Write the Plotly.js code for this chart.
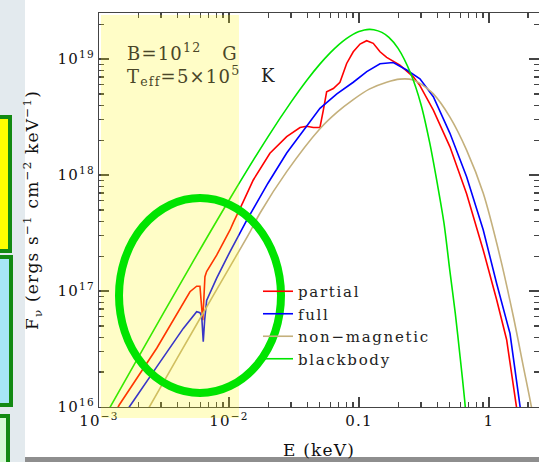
<!DOCTYPE html>
<html><head><meta charset="utf-8">
<script src="https://cdn.plot.ly/plotly-3.0.1.min.js"></script>
<style>
html,body{margin:0;padding:0;background:#ffffff;overflow:hidden}
#chart{width:539px;height:462px}
svg text{letter-spacing:1.2px}
svg text.legendtext{letter-spacing:1.7px}
</style></head><body><div id="chart"></div>
<script>
// ---- data (E in keV, F_nu in ergs s^-1 cm^-2 keV^-1) ----
const seriesNames = ['partial', 'full', 'non\u2212magnetic', 'blackbody'];

const energyPartial = [0.0013, 0.00143, 0.00278, 0.00445, 0.00501, 0.00564, 0.00598, 0.00610, 0.00628, 0.00640, 0.00653, 0.00673, 0.00759, 0.00804, 0.01019, 0.01079, 0.01288, 0.01538, 0.02065, 0.0278, 0.0352, 0.0395, 0.0446, 0.0501, 0.0532, 0.0564, 0.0635, 0.0714, 0.0804, 0.0904, 0.1019, 0.1146, 0.1288, 0.1452, 0.1633, 0.2065, 0.2618, 0.2944, 0.3733, 0.501, 0.673, 0.904, 1.146, 1.368, 1.633, 1.7];
const fluxPartial = [8.5e15, 1.04e16, 3.21e16, 7.83e16, 9.86e16, 1.10e17, 1.10e17, 8.3e16, 5.6e16, 8.3e16, 1.33e17, 1.47e17, 1.85e17, 2.04e17, 3.36e17, 3.89e17, 5.89e17, 9.06e17, 1.54e18, 2.14e18, 2.57e18, 2.63e18, 2.57e18, 2.57e18, 3.63e18, 5.22e18, 5.57e18, 6.31e18, 9.16e18, 1.156e19, 1.346e19, 1.439e19, 1.365e19, 1.156e19, 1.033e19, 8.87e18, 7.03e18, 5.9e18, 3.63e18, 1.75e18, 6.9e17, 2.25e17, 8.4e16, 3.8e16, 9.8e15, 7.0e15];

const energyFull = [0.0016, 0.00171, 0.00278, 0.00445, 0.00564, 0.00598, 0.00617, 0.00634, 0.0065, 0.00662, 0.00673, 0.00804, 0.01019, 0.01368, 0.01995, 0.0278, 0.0395, 0.0501, 0.0676, 0.0904, 0.1148, 0.1452, 0.1837, 0.2328, 0.2944, 0.3733, 0.501, 0.673, 0.904, 1.146, 1.452, 1.75, 1.8];
const fluxFull = [8.7e15, 1.0e16, 2.22e16, 4.76e16, 6.64e16, 6.5e16, 6.03e16, 3.66e16, 5.62e16, 7.33e16, 8.3e16, 1.29e17, 2.19e17, 4.07e17, 8.5e17, 1.55e18, 2.61e18, 3.76e18, 5.0e18, 6.31e18, 7.8e18, 9.12e18, 9.33e18, 8.04e18, 6.76e18, 4.73e18, 2.29e18, 9.66e17, 3.36e17, 1.16e17, 4.3e16, 9.8e15, 7.5e15];

const energyNonMag = [0.0022, 0.00244, 0.0063, 0.01, 0.01452, 0.0173, 0.0278, 0.0501, 0.0676, 0.0904, 0.12, 0.1633, 0.2065, 0.2618, 0.2944, 0.3733, 0.501, 0.673, 0.904, 1.216, 1.542, 1.841, 2.128, 2.2];
const fluxNonMag = [8.1e15, 1.0e16, 6.4e16, 1.57e17, 3.24e17, 4.68e17, 1.07e18, 2.51e18, 3.47e18, 4.47e18, 5.5e18, 6.31e18, 6.71e18, 6.61e18, 6.17e18, 5.01e18, 3.16e18, 1.64e18, 6.95e17, 1.98e17, 6.0e16, 2.22e16, 9.8e15, 7.5e15];

const energyBB = [0.001, 0.002, 0.005, 0.01, 0.02, 0.03, 0.04, 0.05, 0.06, 0.07, 0.08, 0.09, 0.1, 0.11, 0.12, 0.13, 0.15, 0.17, 0.2, 0.25, 0.3, 0.35, 0.4, 0.45, 0.5, 0.55, 0.6, 0.65, 0.7];
const fluxBB = [6.75e15, 2.67e16, 1.61e17, 6.06e17, 2.146e18, 4.25e18, 6.63e18, 9.04e18, 1.131e19, 1.333e19, 1.502e19, 1.633e19, 1.726e19, 1.782e19, 1.803e19, 1.792e19, 1.699e19, 1.537e19, 1.236e19, 7.51e18, 4.06e18, 1.9e18, 8.5e17, 3.9e17, 1.5e17, 6.5e16, 2.7e16, 1.15e16, 4.5e15];

const xTickVals = [0.001, 0.01, 0.1, 1];
const xTickText = ['10<sup>\u22123</sup>', '10<sup>\u22122</sup>', '0.1', '1'];
const yTickVals = [1e16, 1e17, 1e18, 1e19];
const yTickText = ['10<sup>16</sup>', '10<sup>17</sup>', '10<sup>18</sup>', '10<sup>19</sup>'];

// ---- styling ----
const FONT = 'DejaVu Serif';
const colors = ['#ff0000', '#0000ff', '#c4b07c', '#00e600'];
const X = px => (px - 99) / 440;   // page pixel -> paper x (decorations only)
const Y = py => (407 - py) / 394;  // page pixel -> paper y

const mk = (x, y, i, shape) => ({
  x: x, y: y, type: 'scatter', mode: 'lines', name: seriesNames[i],
  line: {color: colors[i], width: 1.6, shape: shape || 'linear', smoothing: 0.8}
});
const traces = [
  mk(energyPartial, fluxPartial, 0),
  mk(energyFull, fluxFull, 1),
  mk(energyNonMag, fluxNonMag, 2, 'spline'),
  mk(energyBB, fluxBB, 3, 'spline')
];

const axisCommon = {
  type: 'log', showgrid: false, zeroline: false,
  showline: true, linecolor: '#444', linewidth: 1.2,
  mirror: 'allticks', ticks: 'inside', ticklen: 10, tickwidth: 1.3, tickcolor: '#444',
  minor: {ticks: 'inside', ticklen: 5, tickwidth: 1.2, tickcolor: '#444', dtick: 'D1', showgrid: false},
  tickmode: 'array',
  tickfont: {family: FONT, size: 15, color: '#111'}
};

const layout = {
  width: 539, height: 462,
  margin: {l: 99, r: 0, t: 13, b: 55},
  paper_bgcolor: '#ffffff', plot_bgcolor: '#ffffff',
  font: {family: FONT, color: '#111'},
  showlegend: true,
  legend: {x: X(258), y: Y(275), xanchor: 'left', yanchor: 'top',
           bgcolor: 'rgba(0,0,0,0)', borderwidth: 0, itemwidth: 30,
           tracegroupgap: 0, font: {family: FONT, size: 15, color: '#222'}},
  xaxis: Object.assign({}, axisCommon, {
    range: [-3, 0.385], tickvals: xTickVals, ticktext: xTickText,
    title: {text: 'E (keV)', font: {family: FONT, size: 17, color: '#111'}, standoff: 14}
  }),
  yaxis: Object.assign({}, axisCommon, {
    range: [16, 19.397], tickvals: yTickVals, ticktext: yTickText,
    title: {text: 'F<sub>\u03bd</sub> (ergs s<sup>\u22121</sup> cm<sup>\u22122</sup> keV<sup>\u22121</sup>)',
            font: {family: FONT, size: 17, color: '#111'}, standoff: 14}
  }),
  shapes: [
    // slide background strip (left) and bottom shadow, kept outside the plot area
    {type: 'rect', xref: 'paper', yref: 'paper', layer: 'below', x0: X(-10), x1: X(25), y0: Y(475), y1: Y(-10), fillcolor: '#e3eaee', line: {width: 0}},
    {type: 'rect', xref: 'paper', yref: 'paper', layer: 'below', x0: X(25), x1: X(560), y0: Y(470), y1: Y(457), fillcolor: '#8e8e8e', line: {width: 0}},
    {type: 'rect', xref: 'paper', yref: 'paper', layer: 'below', x0: X(-10), x1: X(10), y0: Y(251), y1: Y(117), fillcolor: '#ffff00', line: {color: '#138a13', width: 4}},
    {type: 'rect', xref: 'paper', yref: 'paper', layer: 'below', x0: X(-10), x1: X(11), y0: Y(405), y1: Y(257), fillcolor: '#a6e6f6', line: {color: '#138a13', width: 4}},
    {type: 'rect', xref: 'paper', yref: 'paper', layer: 'below', x0: X(-10), x1: X(8), y0: Y(475), y1: Y(416), fillcolor: '#d6fad6', line: {color: '#138a13', width: 4}},
    // translucent yellow highlight
    {type: 'rect', xref: 'paper', yref: 'paper', layer: 'above', x0: X(101), x1: X(239), y0: Y(418), y1: Y(15), fillcolor: 'rgba(255,245,0,0.22)', line: {width: 0}},
    // green ellipse
    {type: 'circle', xref: 'paper', yref: 'paper', layer: 'above', x0: X(119), x1: X(281), y0: Y(393), y1: Y(198), fillcolor: 'rgba(0,0,0,0)', line: {color: '#00e400', width: 8}}
  ],
  annotations: [
    {xref: 'paper', yref: 'paper', x: X(125), y: Y(52), xanchor: 'left', yanchor: 'middle', showarrow: false,
     text: 'B=10<sup>12</sup>\u00a0\u00a0\u00a0G', font: {family: FONT, size: 18, color: '#4a4628'}},
    {xref: 'paper', yref: 'paper', x: X(125), y: Y(76), xanchor: 'left', yanchor: 'middle', showarrow: false,
     text: 'T<sub>eff</sub>=5\u00d710<sup>5</sup>', font: {family: FONT, size: 18, color: '#4a4628'}},
    {xref: 'paper', yref: 'paper', x: X(259), y: Y(75), xanchor: 'left', yanchor: 'middle', showarrow: false,
     text: 'K', font: {family: FONT, size: 18, color: '#222'}}
  ]
};

Plotly.newPlot('chart', traces, layout, {displayModeBar: false, staticPlot: true});
</script></body></html>
